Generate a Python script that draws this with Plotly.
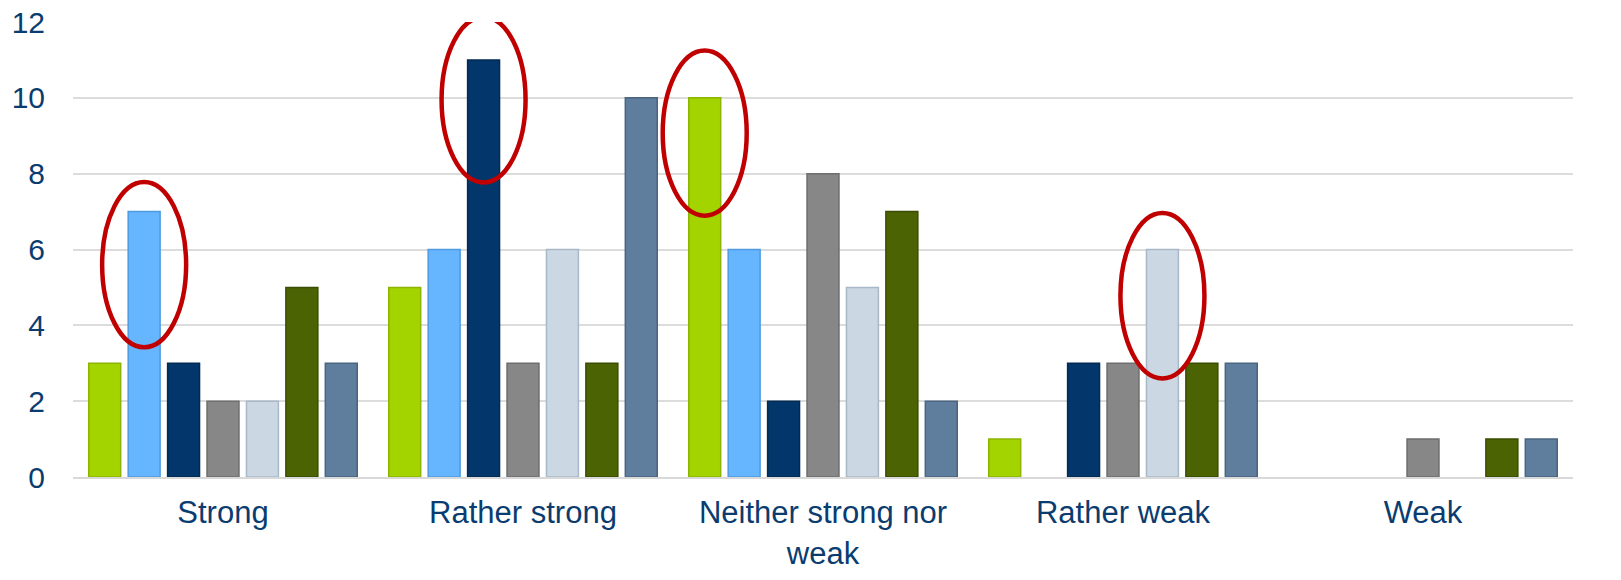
import plotly.graph_objects as go

categories = ["Strong", "Rather strong", "Neither strong nor<br>weak", "Rather weak", "Weak"]
series_names = ["S1", "S2", "S3", "S4", "S5", "S6", "S7"]
values = [
    [3, 5, 10, 1, 0],
    [7, 6, 6, 0, 0],
    [3, 11, 2, 3, 0],
    [2, 3, 8, 3, 1],
    [2, 6, 5, 6, 0],
    [5, 3, 7, 3, 1],
    [3, 10, 2, 3, 1],
]
colors = ["#a3d400", "#66b5ff", "#03376b", "#878787", "#cbd8e4", "#4b6303", "#5f7d9c"]
line_colors = ["#8cb400", "#4f9be0", "#022a52", "#6e6e6e", "#a9b8c6", "#3a4d02", "#4b6580"]
# highlighted bars: (category index, series index)
highlights = [(0, 1), (1, 2), (2, 0), (3, 4)]
highlight_offsets = [-1.4, -1.05, -0.93, -1.22]

BARGAP = 0.08
GROUPGAP = 0.19
n_series = len(series_names)

fig = go.Figure()
for i, name in enumerate(series_names):
    fig.add_trace(go.Bar(
        x=list(range(len(categories))), y=values[i], name=name,
        marker=dict(color=colors[i],
                    line=dict(color=line_colors[i], width=[1.5 if v else 0 for v in values[i]])),
    ))

shapes = []
slot = (1 - BARGAP) / n_series
for (c, s), off in zip(highlights, highlight_offsets):
    xc = c - (1 - BARGAP) / 2 + (s + 0.5) * slot
    yc = values[s][c] + off
    shapes.append(dict(type="circle", xref="x", yref="y",
                       x0=xc - 0.14, x1=xc + 0.14, y0=yc - 2.18, y1=yc + 2.18,
                       line=dict(color="#c00000", width=4.5), layer="above"))

fig.update_layout(
    width=1621, height=580,
    barmode="group", bargap=BARGAP, bargroupgap=GROUPGAP,
    showlegend=False,
    plot_bgcolor="white", paper_bgcolor="white",
    margin=dict(l=73, r=48, t=22, b=103, autoexpand=False),
    font=dict(family="Liberation Sans, Arial, sans-serif", size=30, color="#0b3c6f"),
    shapes=shapes,
    xaxis=dict(tickmode="array", tickvals=list(range(len(categories))), ticktext=categories,
               range=[-0.5, len(categories) - 0.5], showgrid=False, automargin=False,
               showline=True, linecolor="#d9d9d9", linewidth=2,
               ticks="", ticklabelstandoff=7, tickfont=dict(size=31)),
    yaxis=dict(range=[0, 12], dtick=2, showgrid=True, gridcolor="#dcdcdc", gridwidth=2,
               automargin=False, zeroline=False, showline=False, ticks="",
               ticklabelstandoff=27, tickfont=dict(size=30)),
)

fig.write_html(
    "out.html",
    config={"displayModeBar": False},
    post_script="document.body.style.margin='0';document.body.style.overflow='hidden';",
)
